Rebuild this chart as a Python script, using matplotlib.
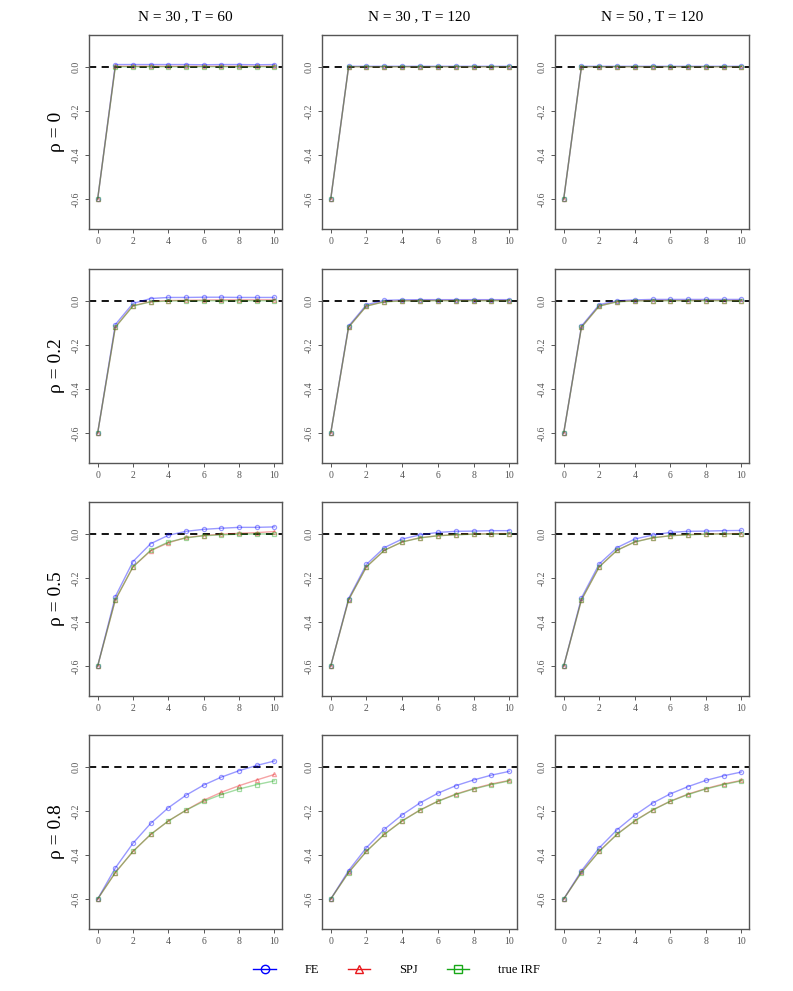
import matplotlib
matplotlib.use("Agg")
import matplotlib.pyplot as plt
from matplotlib.lines import Line2D

plt.rcParams['font.family'] = ['Liberation Serif', 'DejaVu Serif']

horizon = list(range(11))
col_titles = ["N = 30 , T = 60", "N = 30 , T = 120", "N = 50 , T = 120"]
row_labels = ["ρ = 0", "ρ = 0.2", "ρ = 0.5", "ρ = 0.8"]

# true impulse responses (one per rho row)
true_irf = [
    [-0.6, 0.0, 0.0, 0.0, 0.0, 0.0, 0.0, 0.0, 0.0, 0.0, 0.0],
    [-0.6, -0.12, -0.024, -0.005, -0.001, 0.0, 0.0, 0.0, 0.0, 0.0, 0.0],
    [-0.6, -0.3, -0.15, -0.075, -0.0375, -0.019, -0.009, -0.005, -0.002, -0.001, -0.001],
    [-0.6, -0.48, -0.384, -0.307, -0.246, -0.197, -0.157, -0.126, -0.101, -0.081, -0.064],
]

# FE estimates [row][col]
fe_irf = [
    [
        [-0.6, 0.010, 0.010, 0.010, 0.010, 0.010, 0.009, 0.010, 0.010, 0.009, 0.010],
        [-0.6, 0.002, 0.002, 0.002, 0.002, 0.002, 0.002, 0.002, 0.002, 0.002, 0.002],
        [-0.6, 0.002, 0.002, 0.002, 0.002, 0.002, 0.002, 0.002, 0.002, 0.002, 0.002],
    ],
    [
        [-0.6, -0.108, -0.012, 0.010, 0.015, 0.015, 0.016, 0.016, 0.015, 0.015, 0.015],
        [-0.6, -0.115, -0.018, 0.002, 0.004, 0.005, 0.005, 0.005, 0.005, 0.005, 0.005],
        [-0.6, -0.115, -0.018, 0.000, 0.004, 0.006, 0.006, 0.006, 0.006, 0.006, 0.006],
    ],
    [
        [-0.6, -0.285, -0.126, -0.045, -0.007, 0.011, 0.020, 0.025, 0.029, 0.029, 0.031],
        [-0.6, -0.294, -0.139, -0.063, -0.024, -0.005, 0.006, 0.011, 0.012, 0.014, 0.014],
        [-0.6, -0.291, -0.137, -0.063, -0.024, -0.006, 0.006, 0.011, 0.012, 0.014, 0.015],
    ],
    [
        [-0.6, -0.459, -0.347, -0.257, -0.186, -0.129, -0.083, -0.047, -0.018, 0.006, 0.026],
        [-0.6, -0.471, -0.367, -0.284, -0.218, -0.164, -0.120, -0.086, -0.060, -0.038, -0.021],
        [-0.6, -0.472, -0.368, -0.286, -0.220, -0.165, -0.123, -0.090, -0.062, -0.041, -0.024],
    ],
]

# SPJ estimates [row][col]
spj_irf = [
    [
        [-0.6, 0.002, 0.002, 0.002, 0.002, 0.002, 0.002, 0.002, 0.002, 0.002, 0.002],
        [-0.6, 0.000, 0.000, 0.000, 0.000, 0.000, 0.000, 0.000, 0.000, 0.000, 0.000],
        [-0.6, 0.000, 0.000, 0.000, 0.000, 0.000, 0.000, 0.000, 0.000, 0.000, 0.000],
    ],
    [
        [-0.6, -0.120, -0.022, -0.004, 0.001, 0.002, 0.003, 0.004, 0.004, 0.004, 0.004],
        [-0.6, -0.120, -0.024, -0.004, 0.000, 0.001, 0.001, 0.001, 0.001, 0.001, 0.001],
        [-0.6, -0.120, -0.024, -0.004, 0.000, 0.001, 0.001, 0.001, 0.001, 0.001, 0.001],
    ],
    [
        [-0.6, -0.300, -0.150, -0.077, -0.041, -0.017, -0.008, -0.002, 0.002, 0.005, 0.010],
        [-0.6, -0.300, -0.150, -0.075, -0.037, -0.018, -0.009, -0.004, -0.001, 0.000, 0.001],
        [-0.6, -0.300, -0.150, -0.075, -0.037, -0.018, -0.009, -0.004, -0.001, 0.000, 0.001],
    ],
    [
        [-0.6, -0.480, -0.384, -0.307, -0.246, -0.197, -0.152, -0.116, -0.086, -0.060, -0.035],
        [-0.6, -0.479, -0.383, -0.306, -0.245, -0.196, -0.156, -0.124, -0.099, -0.078, -0.062],
        [-0.6, -0.479, -0.383, -0.306, -0.245, -0.196, -0.156, -0.124, -0.099, -0.078, -0.062],
    ],
]

W, H = 793, 991
fig = plt.figure(figsize=(W / 100, H / 100), dpi=100)

col_lr = [(89, 282), (322, 517), (555, 749)]
row_tb = [(35, 229), (269, 463), (502, 696), (735, 929)]

FE_C, SPJ_C, TRUE_C = '#0000ff', '#e8191d', '#18a818'
A = 0.4
frame_c = '#555555'

for r in range(4):
    for c in range(3):
        l, rr = col_lr[c]
        t, b = row_tb[r]
        ax = fig.add_axes([l / W, 1 - b / H, (rr - l) / W, (b - t) / H])
        ax.axhline(0, color='black', ls=(0, (4, 3)), lw=1.3, zorder=1)
        ax.plot(horizon, fe_irf[r][c], color=FE_C, alpha=A, lw=1.0, marker='o',
                ms=3, mfc='none', mew=0.9, zorder=2)
        ax.plot(horizon, spj_irf[r][c], color=SPJ_C, alpha=A, lw=1.0, marker='^',
                ms=3, mfc='none', mew=0.9, zorder=3)
        ax.plot(horizon, true_irf[r], color=TRUE_C, alpha=A, lw=1.0, marker='s',
                ms=3, mfc='none', mew=0.9, zorder=4)
        ax.set_xlim(-0.49, 10.43)
        ax.set_ylim(-0.736, 0.144)
        ax.set_xticks([0, 2, 4, 6, 8, 10])
        ax.set_yticks([0.0, -0.2, -0.4, -0.6])
        ax.set_yticklabels(['0.0', '-0.2', '-0.4', '-0.6'], rotation=90, va='center')
        ax.tick_params(axis='both', labelsize=7, colors=frame_c, length=3, width=0.7, pad=3)
        for sp in ax.spines.values():
            sp.set_color(frame_c)
            sp.set_linewidth(1.0)
        if r == 0:
            ax.set_title(col_titles[c], fontsize=11, pad=11)
        if c == 0:
            ax.text(-0.17, 0.5, row_labels[r], transform=ax.transAxes, rotation=90,
                    fontsize=14, ha='center', va='center')

handles = [
    Line2D([0], [0], color=FE_C, marker='o', mfc='none', ms=6, lw=1.0),
    Line2D([0], [0], color=SPJ_C, marker='^', mfc='none', ms=6, lw=1.0),
    Line2D([0], [0], color=TRUE_C, marker='s', mfc='none', ms=6, lw=1.0),
]
fig.legend(handles, ['FE', 'SPJ', 'true IRF'], loc='center', bbox_to_anchor=(0.5, 1 - 970 / H),
           ncol=3, frameon=False, fontsize=9, handlelength=1.8, handletextpad=2.3,
           columnspacing=2.3)

fig.savefig('out.png', dpi=100)
